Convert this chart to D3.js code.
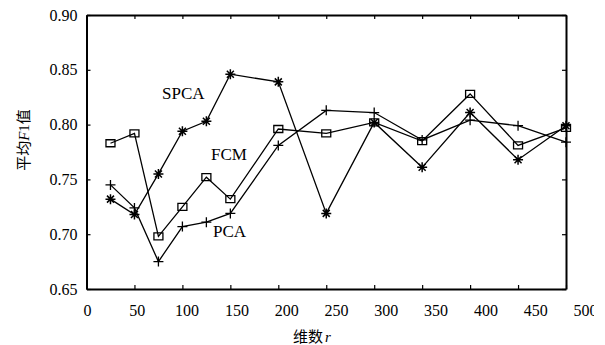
<!DOCTYPE html>
<html>
<head>
<meta charset="utf-8">
<script src="https://cdn.jsdelivr.net/npm/d3@7"></script>
<style>
  body { margin: 0; background: #fff; }
  text { font-family: "Liberation Serif", "DejaVu Serif", serif; fill: #000; }
</style>
</head>
<body>
<div id="chart"></div>
<script>
// data
const dims = [25, 50, 75, 100, 125, 150, 200, 250, 300, 350, 400, 450, 500];
const spcaValues = [0.732, 0.718, 0.755, 0.794, 0.803, 0.846, 0.839, 0.719, 0.802, 0.761, 0.811, 0.768, 0.799];
const fcmValues = [0.783, 0.792, 0.698, 0.725, 0.752, 0.732, 0.796, 0.792, 0.802, 0.785, 0.828, 0.781, 0.797];
const pcaValues = [0.745, 0.724, 0.675, 0.707, 0.711, 0.719, 0.781, 0.813, 0.811, 0.786, 0.804, 0.799, 0.784];
const xTicks = [0, 50, 100, 150, 200, 250, 300, 350, 400, 450, 500];
const yTicks = [0.65, 0.70, 0.75, 0.80, 0.85, 0.90];

const width = 605, height = 345;
const margin = {left: 86.5, right: 39, top: 15, bottom: 56};

// the original picture is cut just after the "50" of the last tick label
let svg = d3.select("#chart")
  .append("svg")
  .attr("width", 594)
  .attr("height", height)
  .style("overflow", "hidden");

let x = d3.scaleLinear().domain([0, 500]).range([margin.left, width - margin.right]);
let y = d3.scaleLinear().domain([0.65, 0.90]).range([height - margin.bottom, margin.top]);
// in the original the x tick labels drift right of their ticks, spread a bit wider
let xLabel = d3.scaleLinear().domain([0, 500]).range([87, 585]);

// axes, ticks point inwards on all four sides
function styleAxis(g) {
  g.select(".domain").attr("stroke-width", 2);
  g.selectAll(".tick line").attr("stroke-width", 1.2);
  g.selectAll("text").style("font-family", "Liberation Serif, serif").style("font-size", "16px").attr("fill", "#000");
}

svg.append("g")
  .attr("transform", `translate(0,${y(0.65)})`)
  .call(d3.axisBottom(x).tickValues(xTicks).tickSizeInner(-4).tickSizeOuter(0).tickFormat(""))
  .call(styleAxis);

// x tick labels
svg.append("g")
  .attr("transform", `translate(0,${y(0.65)})`)
  .call(d3.axisBottom(xLabel).tickValues(xTicks).tickSize(0).tickPadding(16))
  .call(styleAxis)
  .call(g => g.select(".domain").remove());

svg.append("g")
  .attr("transform", `translate(0,${y(0.90)})`)
  .call(d3.axisTop(x).tickValues(xTicks).tickSizeInner(-4).tickSizeOuter(0).tickFormat(""))
  .call(styleAxis);

svg.append("g")
  .attr("transform", `translate(${x(0)},0)`)
  .call(d3.axisLeft(y).tickValues(yTicks).tickSizeInner(-4).tickSizeOuter(0).tickPadding(9).tickFormat(d3.format(".2f")))
  .call(styleAxis);

svg.append("g")
  .attr("transform", `translate(${x(500)},0)`)
  .call(d3.axisRight(y).tickValues(yTicks).tickSizeInner(-4).tickSizeOuter(0).tickFormat(""))
  .call(styleAxis);

// series
const series = [
  {name: "SPCA", values: spcaValues, marker: "star"},
  {name: "FCM", values: fcmValues, marker: "square"},
  {name: "PCA", values: pcaValues, marker: "plus"}
];

let line = d3.line()
  .x((d, i) => x(dims[i]))
  .y(d => y(d));

function markerPath(type, cx, cy) {
  const p = d3.path();
  if (type === "plus" || type === "star") {
    p.moveTo(cx - 5, cy); p.lineTo(cx + 5, cy);
    p.moveTo(cx, cy - 5); p.lineTo(cx, cy + 5);
  }
  if (type === "star") {
    p.moveTo(cx - 3.5, cy - 3.5); p.lineTo(cx + 3.5, cy + 3.5);
    p.moveTo(cx - 3.5, cy + 3.5); p.lineTo(cx + 3.5, cy - 3.5);
  }
  if (type === "square") {
    p.rect(cx - 4.5, cy - 3.5, 9, 7);
  }
  return p.toString();
}

series.forEach(s => {
  svg.append("path")
    .datum(s.values)
    .attr("fill", "none")
    .attr("stroke", "#000")
    .attr("stroke-width", 1.3)
    .attr("d", line);

  svg.append("g")
    .selectAll("path")
    .data(s.values)
    .enter()
    .append("path")
    .attr("d", (d, i) => markerPath(s.marker, x(dims[i]), y(d)))
    .attr("fill", "none")
    .attr("stroke", "#000")
    .attr("stroke-width", s.marker === "star" ? 1.5 : 1.3);
});

// series labels
const labelPos = [
  {text: "SPCA", dx: 162, vy: 0.823},
  {text: "FCM", dx: 211, vy: 0.768},
  {text: "PCA", dx: 213, vy: 0.697}
];
svg.selectAll(".series-label")
  .data(labelPos)
  .enter()
  .append("text")
  .attr("class", "series-label")
  .attr("x", d => d.dx)
  .attr("y", d => y(d.vy))
  .style("font-size", "17px")
  .text(d => d.text);

// axis titles
let xTitle = svg.append("text")
  .attr("x", 293)
  .attr("y", 342)
  .style("font-size", "15px");
xTitle.append("tspan").style("font-family", "Noto Sans CJK SC").text("维数");
xTitle.append("tspan").style("font-style", "italic").attr("dx", 2).text("r");

let yTitle = svg.append("text")
  .attr("transform", "translate(29,140) rotate(-90)")
  .attr("text-anchor", "middle")
  .style("font-size", "15px");
yTitle.append("tspan").style("font-family", "Noto Sans CJK SC").text("平均");
yTitle.append("tspan").style("font-style", "italic").text("F");
yTitle.append("tspan").text("1");
yTitle.append("tspan").style("font-family", "Noto Sans CJK SC").text("值");
</script>
</body>
</html>
